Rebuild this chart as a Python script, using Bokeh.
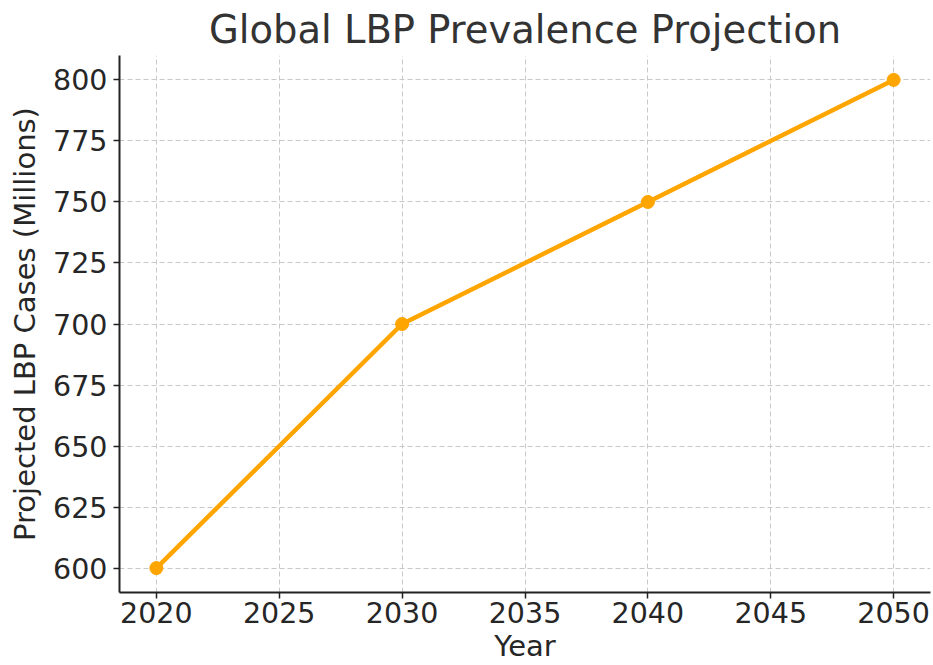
from bokeh.plotting import figure
from bokeh.models import Range1d, FixedTicker
from bokeh.embed import file_html
from bokeh.resources import INLINE

# Projected global low back pain cases
years = [2020, 2030, 2040, 2050]
cases_millions = [600, 700, 750, 800]

x_ticks = [2020, 2025, 2030, 2035, 2040, 2045, 2050]
y_ticks = [600, 625, 650, 675, 700, 725, 750, 775, 800]

FONT = "DejaVu Sans"
TEXT = "#262626"
LINE = "#FFA500"

p = figure(
    width=933, height=665,
    output_backend="svg", toolbar_location=None,
    x_range=Range1d(2018.5, 2051.5),
    y_range=Range1d(590, 810),
    min_border_left=119, min_border_right=3,
    min_border_top=54, min_border_bottom=73,
)
p.outline_line_color = None
p.background_fill_color = "white"
p.border_fill_color = "white"

p.title.text = "Global LBP Prevalence Projection"
p.title.align = "center"
p.title.text_font = FONT
p.title.text_font_size = "38.5px"
p.title.text_font_style = "normal"
p.title.text_color = "#333333"
p.title.offset = 0
p.title.standoff = 8

p.line(years, cases_millions, line_color=LINE, line_width=4.5)
p.scatter(years, cases_millions, size=13, fill_color=LINE, line_color=LINE)

for ax in (p.xaxis[0], p.yaxis[0]):
    ax.axis_line_color = "#222222"
    ax.axis_line_width = 2
    ax.major_tick_line_color = "#222222"
    ax.major_tick_line_width = 1.5
    ax.major_tick_in = 0
    ax.major_tick_out = 6
    ax.minor_tick_line_color = None
    ax.major_label_text_font = FONT
    ax.major_label_text_font_size = "28.5px"
    ax.major_label_text_color = TEXT
    ax.axis_label_text_font = FONT
    ax.axis_label_text_font_size = "29px"
    ax.axis_label_text_font_style = "normal"
    ax.axis_label_text_color = TEXT

p.xaxis.ticker = FixedTicker(ticks=x_ticks)
p.yaxis.ticker = FixedTicker(ticks=y_ticks)
p.xaxis.axis_label = "Year"
p.yaxis.axis_label = "Projected LBP Cases (Millions)"
p.xaxis.major_label_standoff = 3
p.yaxis.major_label_standoff = 6
p.xaxis.axis_label_standoff = 3
p.yaxis.axis_label_standoff = 8

for g in (p.xgrid[0], p.ygrid[0]):
    g.grid_line_color = "#c8c8c8"
    g.grid_line_width = 1
    g.grid_line_dash = "5 3"

open("out.html", "w").write(file_html(p, INLINE))
